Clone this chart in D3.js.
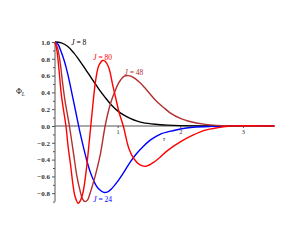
<!DOCTYPE html>
<html><head><meta charset="utf-8">
<script src="https://cdn.jsdelivr.net/npm/d3@7"></script>
<style>html,body{margin:0;padding:0;background:#fff;}svg{display:block;}</style>
</head><body>
<script>
// ---- data ----
const seriesNames = ["J = 8", "J = 24", "J = 48", "J = 80"];
const jValues = ["8", "24", "48", "80"];
const tau8  = [0,0.1,0.2,0.3,0.4,0.5,0.6,0.7,0.8,0.9,1.0,1.1,1.2,1.3,1.4,1.6,1.8,2.0,2.5,3.0,3.5];
const phi8  = [1,0.99,0.95,0.87,0.77,0.66,0.55,0.44,0.34,0.25,0.18,0.13,0.09,0.06,0.04,0.02,0.01,0.005,0,0,0];
const tau24 = [0,0.05,0.1,0.15,0.2,0.25,0.3,0.35,0.4,0.45,0.5,0.55,0.6,0.65,0.7,0.78,0.85,0.9,1.0,1.1,1.2,1.3,1.4,1.5,1.6,1.7,1.8,2.0,2.2,2.5,3.0,3.5];
const phi24 = [1,0.97,0.88,0.77,0.63,0.46,0.28,0.1,-0.08,-0.24,-0.39,-0.52,-0.62,-0.7,-0.75,-0.79,-0.78,-0.75,-0.66,-0.55,-0.43,-0.33,-0.25,-0.18,-0.13,-0.09,-0.07,-0.035,-0.015,-0.005,0,0];
const tau48 = [0,0.04,0.08,0.12,0.16,0.23,0.3,0.35,0.4,0.44,0.48,0.52,0.56,0.64,0.72,0.8,0.85,0.9,0.95,1.0,1.05,1.1,1.17,1.25,1.35,1.45,1.6,1.75,1.85,2.0,2.12,2.4,2.8,3.5];
const phi48 = [1,0.93,0.77,0.52,0.3,0,-0.35,-0.6,-0.77,-0.87,-0.9,-0.88,-0.8,-0.6,-0.35,0,0.17,0.3,0.4,0.49,0.55,0.59,0.6,0.58,0.52,0.44,0.31,0.21,0.15,0.09,0.06,0.02,0,0];
const tau80 = [0,0.03,0.06,0.1,0.14,0.175,0.21,0.25,0.28,0.32,0.37,0.41,0.45,0.5,0.55,0.6,0.65,0.7,0.76,0.8,0.86,0.92,0.97,1.02,1.09,1.18,1.26,1.35,1.45,1.6,1.8,2.0,2.2,2.4,2.6,2.8,3.5];
const phi80 = [1,0.9,0.7,0.38,0.17,0,-0.25,-0.47,-0.66,-0.84,-0.92,-0.88,-0.78,-0.52,-0.16,0.22,0.55,0.72,0.78,0.77,0.69,0.49,0.33,0.17,0,-0.27,-0.39,-0.46,-0.48,-0.42,-0.29,-0.19,-0.11,-0.05,-0.02,0,0];
const yTicks = [-0.8,-0.6,-0.4,-0.2,0.0,0.2,0.4,0.6,0.8,1.0];
const yMinorTicks = [-0.9,-0.7,-0.5,-0.3,-0.1,0.1,0.3,0.5,0.7,0.9];
const xTicks = [1,2,3];

const colors = ["#000000", "#0000ff", "#b03030", "#ff0000"];
const series = [
  {name: seriesNames[0], j: jValues[0], t: tau8,  v: phi8,  c: colors[0], lx: 0.26, ly: 1.0},
  {name: seriesNames[1], j: jValues[1], t: tau24, v: phi24, c: colors[1], lx: 0.61, ly: -0.87},
  {name: seriesNames[2], j: jValues[2], t: tau48, v: phi48, c: colors[2], lx: 1.11, ly: 0.64},
  {name: seriesNames[3], j: jValues[3], t: tau80, v: phi80, c: colors[3], lx: 0.61, ly: 0.82}
];

const W = 300, H = 245;
const svg = d3.select("body").append("svg").attr("width", W).attr("height", H);
const x = d3.scaleLinear().domain([0, 3.5]).range([55, 274.3]);
const y = d3.scaleLinear().domain([-0.9, 1.0]).range([201.6, 42]);

const axisColor = "#555";
const fontFam = "'Liberation Serif','DejaVu Serif',serif";

// y axis
const yAx = svg.append("g").attr("transform", `translate(${x(0)},0)`)
  .call(d3.axisLeft(y).tickValues(yTicks).tickSize(3).tickPadding(2).tickFormat(d3.format(".1f")));
yAx.select(".domain").attr("stroke", axisColor).attr("d", `M0,${y(1.0)}V${y(-0.9)}`);
yAx.selectAll(".tick line").attr("stroke", axisColor);
yAx.selectAll(".tick text").attr("font-family", fontFam).attr("font-size", 7).attr("font-weight", "bold").attr("fill", "#333");
const yMin = svg.append("g").attr("transform", `translate(${x(0)},0)`)
  .call(d3.axisLeft(y).tickValues(yMinorTicks).tickSize(2).tickFormat(""));
yMin.select(".domain").remove();
yMin.selectAll(".tick line").attr("stroke", axisColor);

// x axis
const xAx = svg.append("g").attr("transform", `translate(0,${y(0)})`)
  .call(d3.axisBottom(x).tickValues(xTicks).tickSize(2).tickPadding(1).tickFormat(d3.format("d")));
xAx.select(".domain").attr("stroke", axisColor).attr("d", `M${x(0)},0H${x(3.5)}`);
xAx.selectAll(".tick line").attr("stroke", axisColor);
xAx.selectAll(".tick text").attr("font-family", fontFam).attr("font-size", 6.5).attr("fill", "#333");

// axis titles
const yt = svg.append("text").attr("x", 16).attr("y", 94).attr("font-family", fontFam).attr("font-size", 8).attr("fill", "#222");
yt.append("tspan").text("Φ");
yt.append("tspan").attr("font-style", "italic").attr("font-size", 5.5).attr("dy", 1.5).text("L");
svg.append("text").attr("x", 164).attr("y", 141).attr("text-anchor", "middle")
  .attr("font-family", fontFam).attr("font-size", 7).attr("font-style", "italic").attr("fill", "#333").text("τ");

// curves
const line = d3.line().x(d => x(d[0])).y(d => y(d[1])).curve(d3.curveCatmullRom.alpha(0.5));
series.forEach(s => {
  const pts = s.t.map((t, i) => [t, s.v[i]]);
  svg.append("path").attr("d", line(pts)).attr("fill", "none").attr("stroke", s.c).attr("stroke-width", 1.4);
});

// labels
series.forEach(s => {
  const t = svg.append("text").attr("x", x(s.lx)).attr("y", y(s.ly) + 2.5)
    .attr("font-family", fontFam).attr("font-size", 7.5).attr("fill", s.c);
  t.append("tspan").attr("font-style", "italic").text("J");
  t.append("tspan").text(" = " + s.j);
});
</script>
</body></html>
